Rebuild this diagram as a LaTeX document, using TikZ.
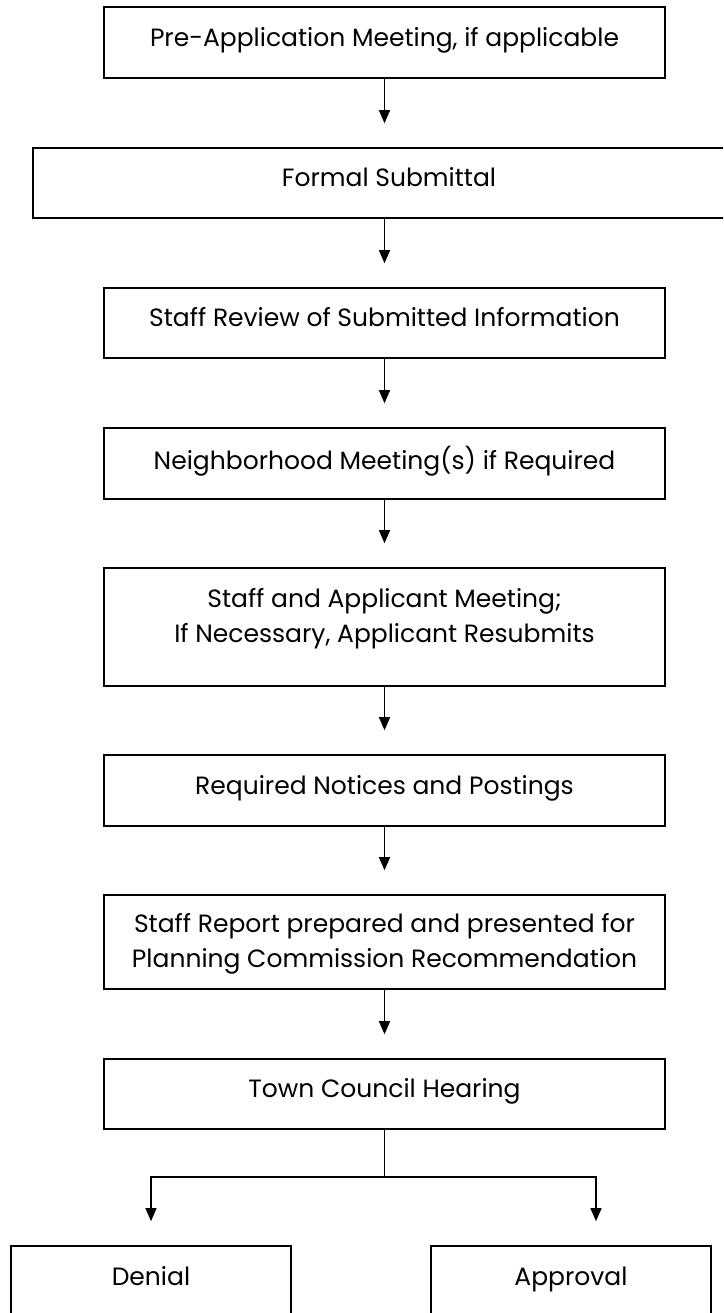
\documentclass[tikz,border=0pt]{standalone}
\usepackage{fontspec}
\setmainfont{Poppins}
\usetikzlibrary{arrows.meta}

\begin{document}
\begin{tikzpicture}[x=1pt,y=-1pt,
    box/.style={draw, line width=1.6pt, minimum width=561pt, align=center,
      font=\fontsize{25}{35}\selectfont, text depth=12pt},
    flow/.style={line width=1.4pt, arrows={-Triangle[length=13pt,width=11pt]}, shorten >=24pt},
    link/.style={line width=1.6pt}]
  \useasboundingbox (0,0) rectangle (723,1313);
  \clip (0,0) rectangle (723,1313);

  %Steps
  \node[box, minimum height=71pt] (pre) at (384.5,42.5) {Pre-Application Meeting, if applicable};
  \node[box, minimum height=70pt, minimum width=712pt] (formal) at (389,183) {Formal Submittal};
  \node[box, minimum height=70pt] (review) at (384.5,323) {Staff Review of Submitted Information};
  \node[box, minimum height=71pt] (neigh) at (384.5,463.5) {Neighborhood Meeting(s) if Required};
  \node[box, minimum height=118pt, text depth=24pt] (meet) at (384.5,627) {Staff and Applicant Meeting;\\ If Necessary, Applicant Resubmits};
  \node[box, minimum height=94pt, text depth=4pt] (report) at (384.5,942) {Staff Report prepared and presented for\\ Planning Commission Recommendation};
  \node[box, minimum height=71pt] (notice) at (384.5,790.5) {Required Notices and Postings};
  \node[box, minimum height=70pt] (town) at (384.5,1094) {Town Council Hearing};

  %Outcomes
  \node[box, minimum width=280pt, minimum height=90pt, text depth=30pt] (denial) at (151,1291) {Denial};
  \node[box, minimum width=280pt, minimum height=90pt, text depth=30pt] (approval) at (571,1291) {Approval};

  %Arrows
  \draw[flow] (pre.south) -- (pre.south |- formal.north);
  \draw[flow] (pre.south |- formal.south) -- (pre.south |- review.north);
  \draw[flow] (review) -- (neigh);
  \draw[flow] (neigh) -- (meet);
  \draw[flow] (meet) -- (notice);
  \draw[flow] (notice) -- (report);
  \draw[flow] (report) -- (town);

  %Split
  \draw[link] (town.south) -- ++(0,47) coordinate (split);
  \draw[flow] (split) -| (denial.north);
  \draw[flow] (split) -| ([xshift=25pt]approval.north);
\end{tikzpicture}
\end{document}
